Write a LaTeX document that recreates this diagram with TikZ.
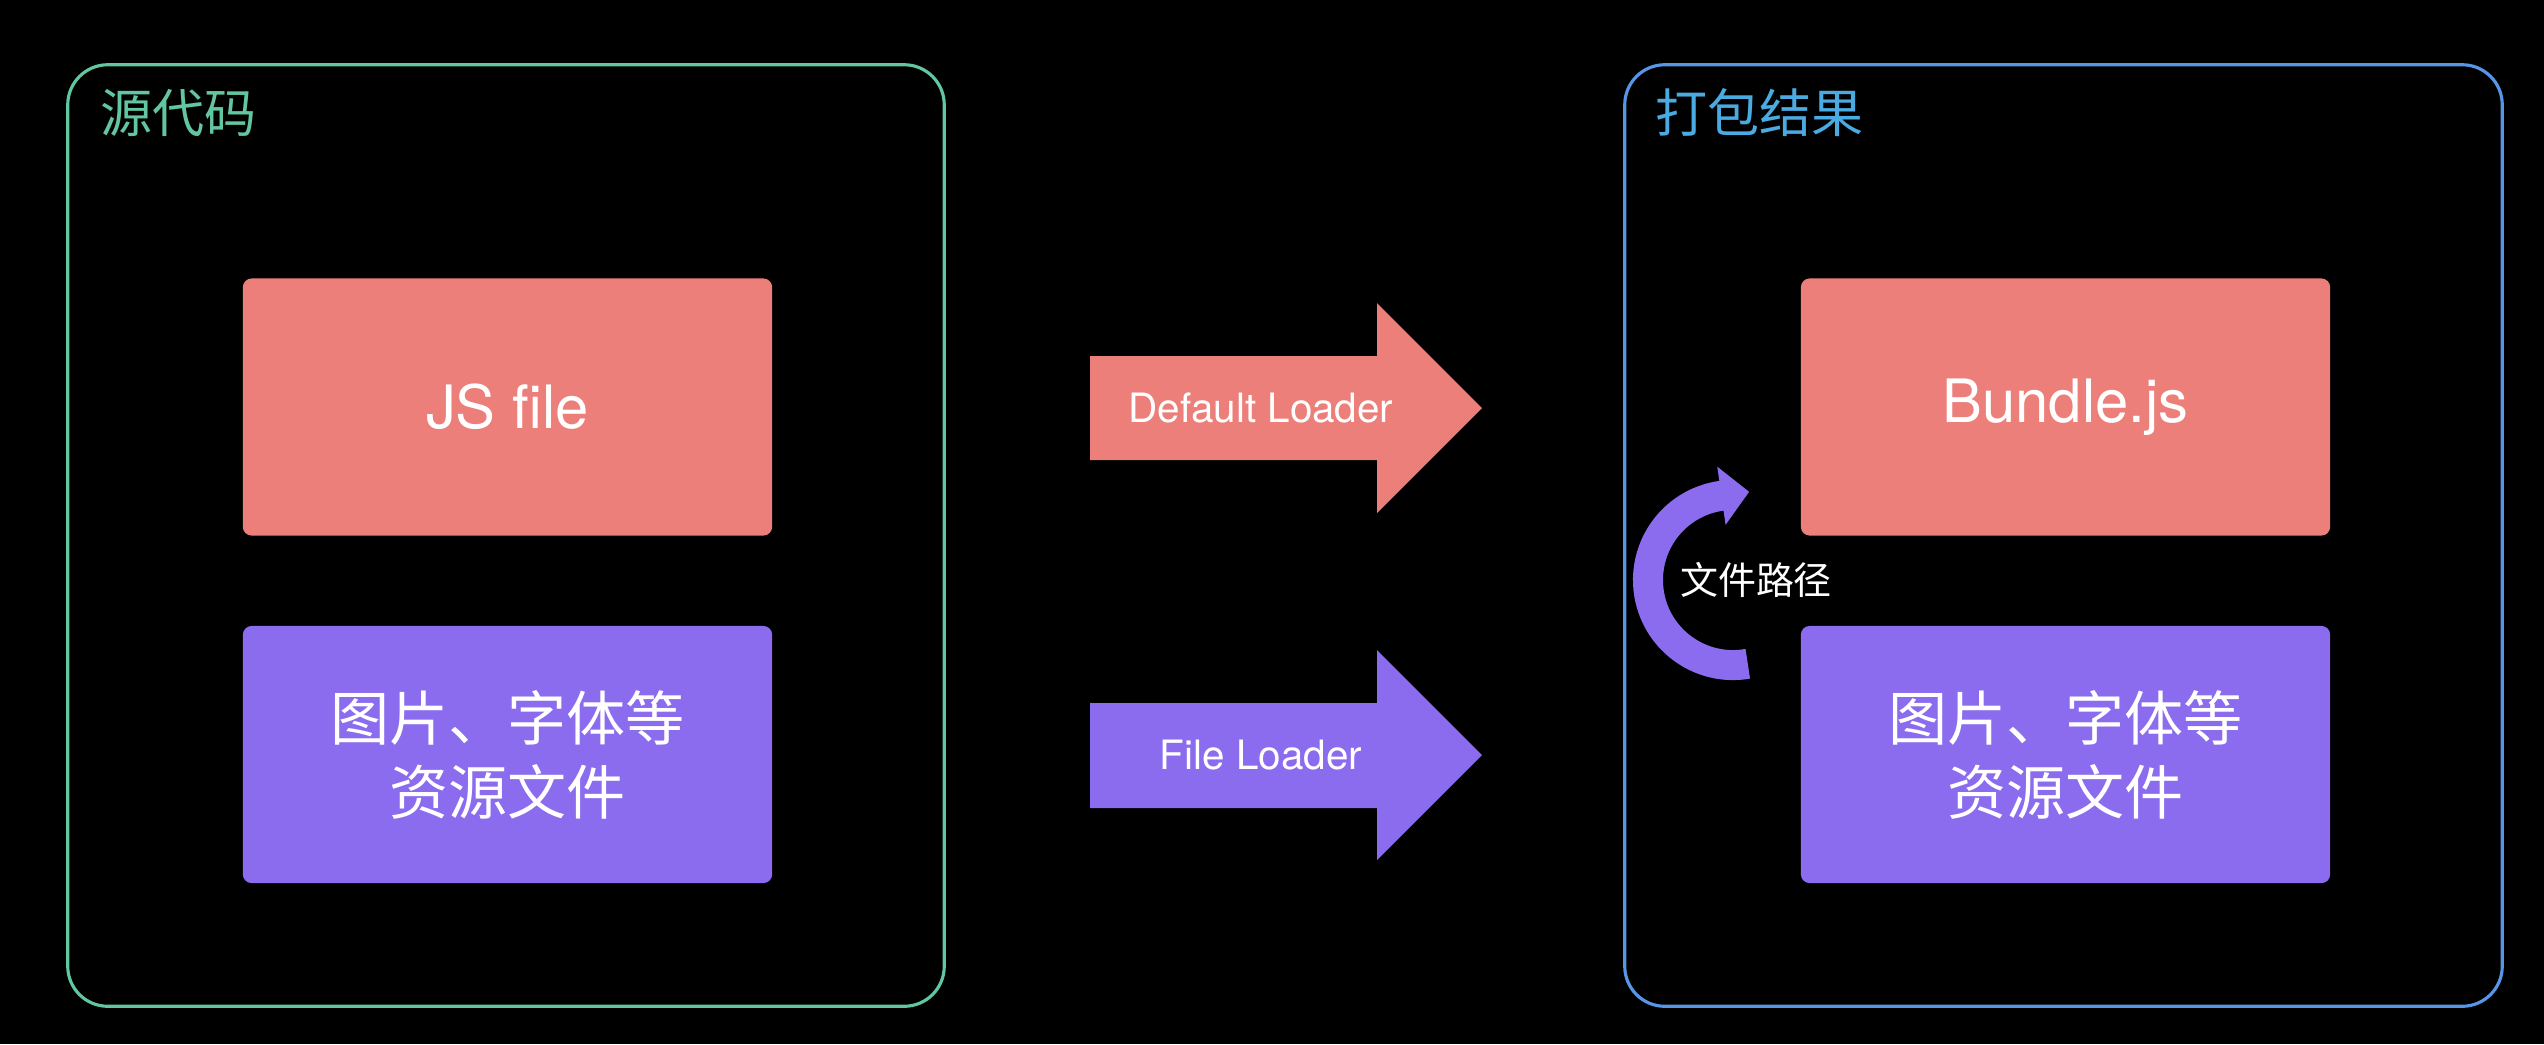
\documentclass[tikz,border=0pt]{standalone}
\usepackage{fontspec}
\setmainfont{TeX Gyre Heros}
\newfontfamily\cjk{Noto Sans CJK SC}
\usepackage{xcolor}
\usetikzlibrary{arrows.meta}
\definecolor{loaderRed}{RGB}{236,127,121}
\definecolor{loaderPurple}{RGB}{139,108,238}
\definecolor{srcGreen}{RGB}{98,198,160}
\definecolor{bundleBlue}{RGB}{86,150,228}
\definecolor{bundleTitle}{RGB}{74,170,226}

\tikzset{
    panel/.style={draw, line width=0.9pt, rounded corners=0.4cm, minimum height=9.41cm},
    filebox/.style={rounded corners=2.5pt, minimum width=5.29cm, minimum height=2.57cm,
        text=white, align=center, inner sep=0pt},
    boxtext/.style={font=\fontsize{17pt}{21pt}\selectfont},
    cjktext/.style={font=\cjk\fontsize{16.8pt}{21pt}\selectfont},
    loadertext/.style={text=white, font=\fontsize{11.5pt}{13pt}\selectfont},
    paneltitle/.style={anchor=west, font=\cjk\fontsize{14.8pt}{16pt}\selectfont},
}

\begin{document}
\begin{tikzpicture}[x=0.01cm, y=-0.01cm]
    \fill[black] (0,0) rectangle (2544,1044);

    % source side
    \node[panel, srcGreen, minimum width=8.76cm] (src) at (506,535.5) {};
    \node[paneltitle, text=srcGreen] (srcTitle) at (88,113) {源代码};
    \node[filebox, boxtext, fill=loaderRed] (jsFile) at (507.5,407) {JS file};
    \node[filebox, cjktext, fill=loaderPurple] (srcAssets) at (507.5,754.5) {图片、字体等\\资源文件};

    % bundle side
    \node[panel, bundleBlue, minimum width=8.77cm] (dist) at (2063.5,535.5) {};
    \node[paneltitle, text=bundleTitle] (distTitle) at (1643,113) {打包结果};
    \node[filebox, boxtext, fill=loaderRed] (bundleJs) at (2065.5,407) {Bundle.js};
    \node[filebox, cjktext, fill=loaderPurple] (distAssets) at (2065.5,754.5) {图片、字体等\\资源文件};

    % loaders
    \fill[loaderRed] (1090,356) -- (1377,356) -- (1377,303) -- (1482,408) -- (1377,513) -- (1377,460) -- (1090,460) -- cycle;
    \node[loadertext] (defaultLoader) at (1261,408) {Default Loader};
    \fill[loaderPurple] (1090,703) -- (1377,703) -- (1377,650) -- (1482,755) -- (1377,860) -- (1377,808) -- (1090,808) -- cycle;
    \node[loadertext] (fileLoader) at (1261,755) {File Loader};

    % path back into the bundle
    \draw[loaderPurple, line width=0.3cm, -{Triangle[width=0.57cm, length=0.28cm]}]
        ([shift={(-80:0.85cm)}]1733,580) arc[start angle=-80, end angle=-262, radius=0.85cm] -- ++(28,-4);
    \node[text=white, font=\cjk\fontsize{10.8pt}{13pt}\selectfont] (pathLabel) at (1756,580) {文件路径};
\end{tikzpicture}
\end{document}
